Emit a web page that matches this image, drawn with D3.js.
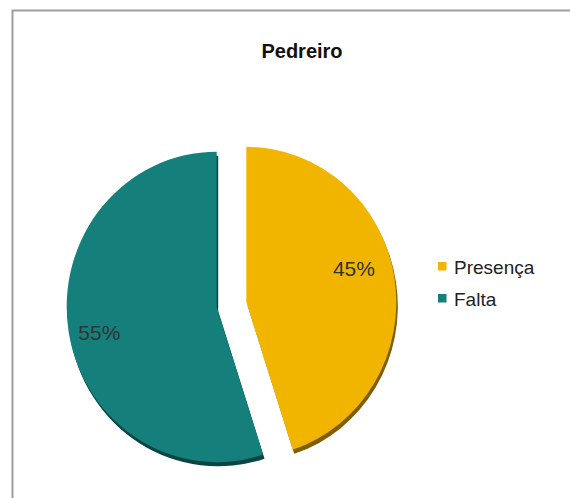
<!DOCTYPE html>
<html><head><meta charset="utf-8">
<script src="https://cdn.jsdelivr.net/npm/d3@7"></script>
<style>body{margin:0;background:#fff}svg{display:block}</style>
</head><body>
<svg id="c" width="570" height="498"></svg>
<script>
const categories = ["Presença", "Falta"];
const values = [45, 55];
const labels = ["45%", "55%"];
const colors = ["#F1B500", "#147F7B"];
const shadowColors = ["#7E5E00", "#0A4543"];
const title = "Pedreiro";

const svg = d3.select("#c");
svg.append("rect").attr("x", 12.5).attr("y", 10.5).attr("width", 600).attr("height", 600)
  .attr("fill", "#fff").attr("stroke", "#a0a0a0").attr("stroke-width", 2);

svg.append("text").attr("x", 302).attr("y", 58).attr("text-anchor", "middle")
  .attr("font-family", "Liberation Sans, Arial, sans-serif").attr("font-weight", "bold")
  .attr("font-size", 20).attr("fill", "#111").text(title);

const cx = 231.5, cy = 304.5, r = 150, sy = 1.035, explode = 15;
const pie = d3.pie().sort(null).value(d => d)(values);
const arc = d3.arc().innerRadius(0).outerRadius(r);
const g = svg.append("g").attr("transform", `translate(${cx},${cy}) scale(1,${sy})`);

pie.forEach((p, i) => {
  const mid = (p.startAngle + p.endAngle) / 2;
  const dx = Math.sin(mid) * explode, dy = -Math.cos(mid) * explode;
  const sg = g.append("g").attr("transform", `translate(${dx},${dy})`);
  sg.append("path").attr("d", arc(p)).attr("fill", shadowColors[i])
    .attr("transform", "translate(1.5,4)");
  sg.append("path").attr("d", arc(p)).attr("fill", colors[i]);
});

const labelRadius = [0.75, 0.8];
const labelAngleShift = [-8, -3];
pie.forEach((p, i) => {
  const mid = (p.startAngle + p.endAngle) / 2;
  const a = mid + labelAngleShift[i] * Math.PI / 180;
  const dx = Math.sin(mid) * explode, dy = -Math.cos(mid) * explode;
  svg.append("text")
    .attr("x", cx + dx + Math.sin(a) * r * labelRadius[i])
    .attr("y", cy + (dy - Math.cos(a) * r * labelRadius[i]) * sy + 7.5)
    .attr("text-anchor", "middle")
    .attr("font-family", "Liberation Sans, Arial, sans-serif")
    .attr("font-size", 21).attr("fill", "#333").text(labels[i]);
});

const lg = svg.append("g");
categories.forEach((c, i) => {
  lg.append("rect").attr("x", 438).attr("y", 262 + i * 32).attr("width", 8.5).attr("height", 8.5).attr("fill", colors[i]);
  lg.append("text").attr("x", 454).attr("y", 274 + i * 32)
    .attr("font-family", "Liberation Sans, Arial, sans-serif").attr("font-size", 19)
    .attr("fill", "#222").text(c);
});
</script>
</body></html>
